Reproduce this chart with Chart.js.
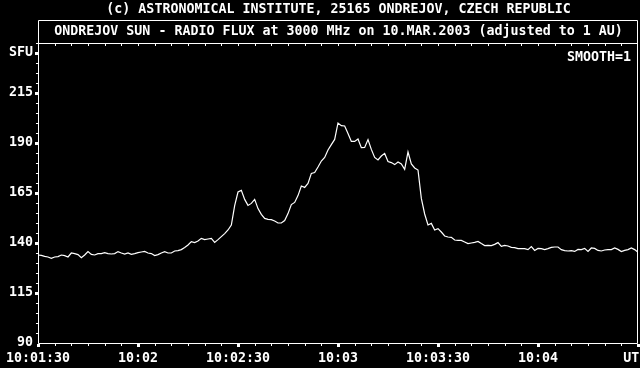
<!DOCTYPE html>
<html><head><meta charset="utf-8">
<script src="https://cdn.jsdelivr.net/npm/chart.js@4"></script>
<style>html,body{margin:0;padding:0;background:#000;overflow:hidden;}</style>
</head><body>
<canvas id="c" width="640" height="368"></canvas>
<script>
const titleText = '(c) ASTRONOMICAL INSTITUTE, 25165 ONDREJOV, CZECH REPUBLIC';
const subtitleText = 'ONDREJOV SUN - RADIO FLUX at 3000 MHz on 10.MAR.2003 (adjusted to 1 AU)';
const smoothText = 'SMOOTH=1';

// flux in SFU, one sample per second starting 10:01:30 UT
const fluxSFU = [
  134.0,133.8,133.3,133.0,132.3,133.0,133.2,134.0,133.7,133.0,
  135.0,134.7,134.2,132.7,134.0,135.7,134.3,134.0,134.7,134.7,
  135.2,134.7,134.5,134.7,135.7,135.0,134.5,135.0,134.3,134.7,
  135.2,
  135.5,135.8,135.0,134.7,133.7,134.2,135.0,135.7,135.0,135.0,
  136.0,136.2,136.7,137.8,139.0,140.7,140.2,141.0,142.3,141.7,
  142.0,142.3,140.3,141.7,143.2,144.7,146.5,149.0,158.7,165.5,
  166.3,161.8,158.8,159.8,161.8,157.2,154.3,152.3,151.8,151.7,
  151.0,150.0,150.0,151.2,154.7,159.2,160.3,163.7,168.5,167.8,
  169.8,174.8,175.2,178.0,181.0,182.8,186.5,189.2,191.8,200.0,
  198.7,198.5,194.8,190.8,190.8,192.0,187.7,187.8,191.7,186.8,
  182.8,181.5,183.5,184.8,180.7,180.2,179.2,180.5,179.5,176.8,
  185.5,179.5,177.5,176.5,162.3,154.5,149.0,149.8,146.5,147.2,
  145.5,143.5,143.0,142.8,141.5,141.3,141.3,140.5,139.7,140.0,
  140.3,140.8,139.7,138.7,138.8,138.7,139.3,140.2,138.3,138.8,
  138.5,137.8,137.7,137.2,137.2,137.2,136.7,138.2,136.3,137.3,
  137.2,136.7,137.2,137.8,138.0,138.0,136.7,136.2,136.0,136.2,
  135.8,136.8,136.7,137.3,135.8,137.5,137.3,136.3,136.0,136.5,
  136.7,136.7,137.5,136.8,135.7,136.3,136.7,137.5,136.7,135.3
];

const xTickSecs = [0, 30, 60, 90, 120, 150, 178];
const xTickLabels = ['10:01:30', '10:02', '10:02:30', '10:03', '10:03:30', '10:04', 'UT'];
const yTickValues = [90, 115, 140, 165, 190, 215, 235];
const yTickLabels = ['90', '115', '140', '165', '190', '215', 'SFU'];

const FONT = '"DejaVu Sans Mono", "Liberation Mono", monospace';
const FSIZE = 13.3;
const points = fluxSFU.map((v, i) => ({ x: i, y: v }));

const frame = {
  id: 'frame',
  beforeDraw(chart) {
    const ctx = chart.ctx;
    ctx.save();
    ctx.fillStyle = '#000';
    ctx.fillRect(0, 0, chart.width, chart.height);
    ctx.restore();
  },
  afterDraw(chart) {
    const { ctx, chartArea: a, scales: { x, y } } = chart;
    ctx.save();
    ctx.strokeStyle = '#fff';
    ctx.fillStyle = '#fff';
    ctx.lineWidth = 1;
    const L = Math.round(a.left), R = Math.round(a.right) - 1, T = Math.round(a.top), B = Math.round(a.bottom);
    ctx.beginPath();
    ctx.moveTo(L + 0.5, 20.5); ctx.lineTo(R + 0.5, 20.5); ctx.lineTo(R + 0.5, B + 0.5);
    ctx.lineTo(L + 0.5, B + 0.5); ctx.closePath();
    ctx.moveTo(L + 0.5, T + 0.5); ctx.lineTo(R + 0.5, T + 0.5);
    ctx.stroke();
    for (let s = 0; s <= 180; s += 5) {
      const px = Math.round(x.getPixelForValue(s));
      if (s % 30 === 0) ctx.fillRect(px - 1, B + 1, 3, 3);
      else ctx.fillRect(px, B + 1, 1, 2);
      if (s > 0 && s < 180) ctx.fillRect(px, T + 1, 1, 2);
    }
    for (let v = 95; v <= 240; v += 5) {
      const py = Math.round(y.getPixelForValue(v));
      if (yTickValues.includes(v)) ctx.fillRect(L - 3, py - 1, 3, 3);
      else ctx.fillRect(L - 2, py, 2, 1);
    }
    ctx.font = 'bold ' + FSIZE + 'px ' + FONT;
    ctx.textBaseline = 'middle';
    ctx.textAlign = 'center';
    ctx.fillText(titleText, (L + R) / 2 + 1, 10);
    ctx.fillText(subtitleText, (L + R) / 2 + 1, 32);
    ctx.textAlign = 'right';
    ctx.fillText(smoothText, R - 6, 58);
    ctx.restore();
  }
};

new Chart(document.getElementById('c'), {
  type: 'line',
  data: {
    datasets: [{
      data: points,
      borderColor: '#fff',
      borderWidth: 1.2,
      pointRadius: 0,
      tension: 0,
      fill: false
    }]
  },
  options: {
    responsive: false,
    animation: false,
    devicePixelRatio: 1,
    layout: { padding: { top: 43, right: 2, left: 0, bottom: 0 } },
    plugins: { legend: { display: false }, tooltip: { enabled: false }, title: { display: false } },
    scales: {
      x: {
        type: 'linear', min: 0, max: 180,
        grid: { display: false, drawTicks: false },
        border: { display: false },
        afterBuildTicks: s => { s.ticks = xTickSecs.map(v => ({ value: v })); },
        afterFit: s => { s.height = 25; s.paddingLeft = 0; s.paddingRight = 0; },
        ticks: {
          color: '#fff', font: { family: FONT, size: FSIZE, weight: 'bold' }, padding: 8,
          maxRotation: 0, autoSkip: false,
          callback: (v, i) => xTickLabels[i]
        }
      },
      y: {
        type: 'linear', min: 90, max: 240,
        grid: { display: false, drawTicks: false },
        border: { display: false },
        afterBuildTicks: s => { s.ticks = yTickValues.map(v => ({ value: v })); },
        afterFit: s => { s.width = 38; s.paddingTop = 0; s.paddingBottom = 0; },
        ticks: {
          color: '#fff', font: { family: FONT, size: FSIZE, weight: 'bold' }, padding: 5,
          autoSkip: false,
          callback: (v, i) => yTickLabels[i]
        }
      }
    }
  },
  plugins: [frame]
});
</script>
</body></html>
